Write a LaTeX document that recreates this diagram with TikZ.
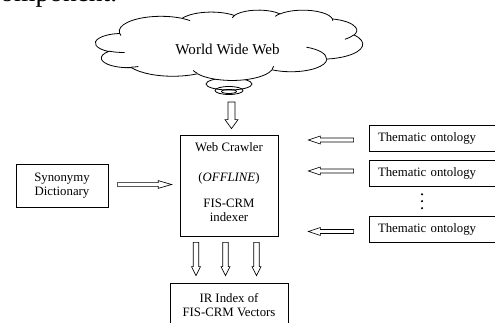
\documentclass[tikz,border=0pt]{standalone}
\usepackage{fontspec}
\setmainfont{Liberation Serif}
\usetikzlibrary{calc}
% cloud outline built from DrawingML-style elliptic arcs (angles in degrees)
\def\cldsx{0.0046354}% 200.25pt / 43200
\def\cldsy{0.0012153}% 52.5pt / 43200
\newcommand\cldprep[5]{%
  \pgfmathsetmacro\cldst{#4}%
  \pgfmathsetmacro\cldsw{#5}%
  \pgfmathsetmacro\cldta{atan2(#2*sin(\cldst), #3*cos(\cldst))}%
  \pgfmathsetmacro\cldtb{atan2(#2*sin(\cldst+\cldsw), #3*cos(\cldst+\cldsw))}%
  \pgfmathsetmacro\clddd{\cldtb-\cldta}%
  \pgfmathsetmacro\clddd{(\cldsw>0)*(\clddd<0)*360-(\cldsw<0)*(\clddd>0)*360+\clddd}%
  \pgfmathsetmacro\cldrx{#2*\cldsx}%
  \pgfmathsetmacro\cldry{#3*\cldsy}%
  \expandafter\xdef\csname carc#1\endcsname{arc[start angle={-\cldta}, delta angle={-\clddd}, x radius=\cldrx pt, y radius=\cldry pt]}%
}
% named point of the 43.2 x 43.2 cloud box (in thousands) -> picture pixels
\newcommand\cldpt[3]{\coordinate (#1) at ({95.5+#2*6.18056},{10+#3*1.62037});}
\begin{document}
\cldprep{A}{6753}{9190}{-190.48748}{123.78053}
\cldprep{B}{5333}{7267}{-144.10238}{89.94523}
\cldprep{C}{4365}{5945}{-145.80792}{99.72302}
\cldprep{D}{4857}{6595}{-130.98607}{117.24173}
\cldprep{E}{5333}{7273}{-78.70888}{109.02692}
\cldprep{F}{6775}{9220}{-46.26725}{130.269}
\cldprep{G}{5785}{7867}{0.62502}{114.03333}
\cldprep{H}{6752}{9215}{22.4516}{115.17255}
\cldprep{I}{7720}{10543}{66.24263}{75.71102}
\cldprep{J}{4360}{5918}{-274.94208}{146.73557}
\cldprep{K}{4345}{5945}{-246.8285}{152.51885}
\cldprep{sA}{4345}{5945}{86.742}{26.4295}
\cldprep{sB}{4360}{5918}{73.61047}{11.44747}
\cldprep{sC}{6752}{9215}{137.62415}{14.0811}
\cldprep{sD}{6752}{9215}{6.45327}{15.99835}
\cldprep{sE}{5785}{7867}{-70.29235}{70.91737}
\cldprep{sF}{5333}{7273}{30.31803}{27.7515}
\cldprep{sG}{4857}{6595}{-13.74433}{14.8589}
\cldprep{sH}{4857}{6595}{-149.18145}{18.19537}
\cldprep{sI}{4365}{5945}{-163.49427}{17.68635}
\cldprep{sJ}{6753}{9190}{-66.70695}{12.31935}
\cldprep{sK}{6753}{9190}{157.65435}{11.85817}
\begin{tikzpicture}[x=0.75pt,y=-0.75pt,
  lw/.style={line width=0.6pt},
  box/.style={draw, lw, fill=white, inner sep=0pt, align=center, font=\fontsize{9.6}{10.5}\selectfont},
  txt/.style={inner sep=0pt, align=center, font=\fontsize{9.6}{10.5}\selectfont},
  tbox/.style={draw, lw, fill=white, inner xsep=6.75pt, inner ysep=0pt, text width=88.5pt, align=left, minimum height=19.5pt, font=\fontsize{9.6}{10.5}\selectfont},
  barrow/.style n args={3}{draw, line width=0.5pt, to path={
    ($(\tikztostart)!#1!90:(\tikztotarget)$) --
    ($(\tikztotarget)!#3!(\tikztostart)!#1!-90:(\tikztostart)$) --
    ($(\tikztotarget)!#3!(\tikztostart)!#2!-90:(\tikztostart)$) --
    (\tikztotarget) --
    ($(\tikztotarget)!#3!(\tikztostart)!#2!90:(\tikztostart)$) --
    ($(\tikztotarget)!#3!(\tikztostart)!#1!90:(\tikztostart)$) --
    ($(\tikztostart)!#1!-90:(\tikztotarget)$) -- cycle}},
  varrowbig/.style={barrow={2.6pt}{4.9pt}{6.75pt}},
  varrow/.style={barrow={2.1pt}{3.4pt}{6.75pt}},
  harrow/.style={barrow={1.4pt}{2.9pt}{10pt}},
  tarrow/.style={barrow={1.5pt}{3pt}{9pt}},
]
\useasboundingbox (0,0) rectangle (495,323);

% text from the page above, cut by the frame
\node[anchor=base west, inner sep=0pt, font=\fontsize{20.6}{24}\selectfont] (prev) at (-12,1.5) {component.};

% saucer (callout tail) under the cloud
\draw[lw] (229,84) ellipse [x radius=17.25pt, y radius=4.5pt];
\draw[lw] (229,90.5) ellipse [x radius=10.5pt, y radius=3pt];
\draw[lw] (229,91.5) ellipse [x radius=5.6pt, y radius=1.5pt];

% cloud
\cldpt{c0}{3.900}{14.370}
\draw[lw, fill=white] (c0) \carcA \carcB \carcC \carcD \carcE \carcF \carcG \carcH \carcI \carcJ \carcK -- cycle;
\cldpt{cA}{4.693}{26.177}
\cldpt{cB}{6.928}{34.899}
\cldpt{cC}{16.478}{39.090}
\cldpt{cD}{28.827}{34.751}
\cldpt{cE}{34.129}{22.954}
\cldpt{cF}{41.798}{15.354}
\cldpt{cG}{38.324}{5.426}
\cldpt{cH}{29.078}{3.952}
\cldpt{cI}{22.141}{4.720}
\cldpt{cJ}{14.000}{5.192}
\cldpt{cK}{4.127}{15.789}
\draw[lw] (cA) \carcsA (cB) \carcsB (cC) \carcsC (cD) \carcsD (cE) \carcsE (cF) \carcsF
          (cG) \carcsG (cH) \carcsH (cI) \carcsI (cJ) \carcsJ (cK) \carcsK;
\node[txt, font=\fontsize{11.3}{12}\selectfont] (www) at (227.5,49) {World Wide Web};

\node[box, minimum width=73.5pt, minimum height=75.75pt] (crawl) at (229,185.5) {};
\node[txt] (crawltext) at (229,182) {Web Crawler\\[11.5pt] (\textit{OFFLINE})\\[9pt] FIS-CRM\\indexer};

\node[box, minimum width=69pt, minimum height=32.25pt] (syn) at (62,185.5) {Synonymy\\Dictionary};
\node[box, minimum width=88.5pt, minimum height=33pt] (ir) at (229,305) {IR Index of\\FIS-CRM Vectors};

\node[tbox] (t1) at (437,138) {Thematic ontology};
\node[tbox] (t2) at (437,173) {Thematic ontology};
\node[tbox] (t3) at (437,229.5) {Thematic ontology};

\fill (422,194.3) circle (0.9pt);
\fill (422,201.2) circle (0.9pt);
\fill (422,208.2) circle (0.9pt);

% arrow end points
\coordinate (ws) at ($(www.center)+(4,53)$);
\coordinate (we) at ($(crawl.north)+(2.5,-6)$);
\coordinate (ss) at ($(syn.east)+(9,-1)$);
\coordinate (se) at ($(crawl.west)+(-8,-1)$);
\coordinate (t1s) at ($(t1.west)+(-15,2)$);
\coordinate (t1e) at ($(crawl.east|-t1.west)+(30,2)$);
\coordinate (t2s) at ($(t2.west)+(-15,-2)$);
\coordinate (t2e) at ($(crawl.east|-t2.west)+(30,-2)$);
\coordinate (t3s) at ($(t3.west)+(-15,2)$);
\coordinate (t3e) at ($(crawl.east|-t3.west)+(30,2)$);
\coordinate (b1s) at ($(crawl.south)+(-33,6)$);
\coordinate (b1e) at ($(ir.north)+(-33,-7)$);
\coordinate (b2s) at ($(crawl.south)+(-3.5,6)$);
\coordinate (b2e) at ($(ir.north)+(-3.5,-7)$);
\coordinate (b3s) at ($(crawl.south)+(27.5,6)$);
\coordinate (b3e) at ($(ir.north)+(27.5,-7)$);

\draw[varrowbig] (ws) to (we);
\draw[harrow] (ss) to (se);
\draw[tarrow] (t1s) to (t1e);
\draw[tarrow] (t2s) to (t2e);
\draw[tarrow] (t3s) to (t3e);
\draw[varrow] (b1s) to (b1e);
\draw[varrow] (b2s) to (b2e);
\draw[varrow] (b3s) to (b3e);
\end{tikzpicture}
\end{document}
